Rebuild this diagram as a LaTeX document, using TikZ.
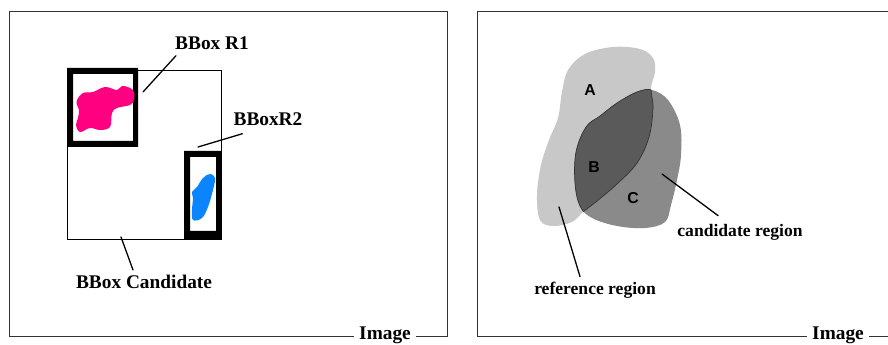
\documentclass[tikz,border=0pt]{standalone}
\usepackage{fontspec}
\setmainfont{Liberation Serif}
\newfontfamily\regsans{Liberation Sans}
\usetikzlibrary{calc}

\definecolor{refgray}{RGB}{200,200,200}
\definecolor{candgray}{RGB}{138,138,138}
\definecolor{overgray}{RGB}{90,90,90}
\definecolor{blobpink}{RGB}{255,0,128}
\definecolor{blobblue}{RGB}{10,132,255}

\tikzset{
	framebox/.style={line width=0.8pt, color=black!80},
	lbl/.style={font=\bfseries\fontsize{16.5}{18}\selectfont, inner sep=0pt},
	smalllbl/.style={font=\bfseries\fontsize{15}{17}\selectfont, inner sep=0pt},
	regionlbl/.style={font=\regsans\bfseries\fontsize{13.5}{15}\selectfont, inner sep=0pt},
	imglbl/.style={font=\bfseries\fontsize{16.5}{18}\selectfont, fill=white, inner xsep=4.5pt, inner ysep=0pt},
	leader/.style={line width=1.1pt, line cap=round}
}

\begin{document}
\begin{tikzpicture}[x=0.03cm, y=-0.03cm]
		%%%%% START %%%%%
		\useasboundingbox (0, 0) rectangle (888, 345);
		
		% left panel
		\draw[framebox] (9, 11) rectangle (447, 336);
		\node[imglbl] (imgleft) at (385, 335) {Image};
		
		\draw[line width=0.6pt] (67, 70) rectangle (221, 239);
		\fill[even odd rule] (67, 68) rectangle (138, 147) (73, 74) rectangle (133, 141);
		\fill[even odd rule] (184, 151) rectangle (221, 239) (190, 157) rectangle (216, 231);
		
		\fill[blobpink] plot[smooth cycle, tension=0.6] coordinates {(77, 100) (83, 93) (93, 92) (105, 87) (117, 90) (122, 86) (130, 88) (134, 92) (134, 100) (130, 105) (117, 108) (112, 113) (110, 127) (100, 130) (90, 128) (80, 132) (76, 125) (78, 118) (79, 110) (77, 105)};
		\fill[blobblue] plot[smooth cycle, tension=0.6] coordinates {(210, 174) (215, 178) (213, 190) (208, 207) (202, 218) (193, 220) (192, 210) (193, 198) (192, 192) (197, 187) (203, 178)};
		
		\node[lbl] (r1lbl) at (212, 43) {BBox R1};
		\node[lbl] (r2lbl) at (268, 119) {BBoxR2};
		\node[lbl] (candlbl) at (144, 282) {BBox Candidate};
		
		\coordinate (r1tip) at (143, 92);
		\coordinate (r2tip) at (198, 147);
		\coordinate (candtip) at (121, 237);
		\draw[leader] (r1tip) -- ($(r1lbl.south west)+(1, 6)$);
		\draw[leader] (r2tip) -- ($(r2lbl.south west)+(9, 8)$);
		\draw[leader] (candtip) -- ($(candlbl.north)+(-11, -5)$);
		
		% right panel
		\draw[framebox] (888, 11) -- (477, 11) -- (477, 336) -- (888, 336);
		\node[imglbl] (imgright) at (838, 335) {Image};
		
		\def\refshape{plot[smooth cycle, tension=0.6] coordinates {(613, 47) (640, 49) (653, 58) (655, 72) (651, 88) (653, 108) (649, 137) (637, 163) (617, 184) (597, 201) (583, 212) (572, 222) (553, 226) (540, 220) (537, 195) (541, 165) (549, 140) (558, 118) (562, 92) (568, 70) (585, 54)}}
		\def\candshape{plot[smooth cycle, tension=0.6] coordinates {(652, 90) (668, 100) (680, 125) (681, 155) (677, 180) (671, 205) (665, 222) (645, 228) (617, 226) (592, 218) (580, 206) (575, 183) (576, 152) (586, 127) (600, 116) (617, 103) (637, 92)}}
		
		\fill[refgray] \refshape;
		\fill[candgray] \candshape;
		\begin{scope}
			\clip \candshape;
			\fill[overgray] \refshape;
			\draw[line width=0.6pt, color=black!80] \refshape;
		\end{scope}
		\begin{scope}
			\clip \refshape;
			\draw[line width=0.6pt, color=black!80] \candshape;
		\end{scope}
		
		\node[regionlbl] (alb) at (590, 90) {A};
		\node[regionlbl] (blb) at (594, 167) {B};
		\node[regionlbl] (clb) at (633, 198) {C};
		
		\node[smalllbl] (crlbl) at (740, 232) {candidate region};
		\node[smalllbl] (reflbl) at (595, 290) {reference region};
		
		\coordinate (crtip) at (662, 174);
		\coordinate (reftip) at (559, 207);
		\draw[leader] (crtip) -- ($(crlbl.north west)+(41, -8)$);
		\draw[leader] (reftip) -- ($(reflbl.north west)+(46, -5)$);
		
		%%%%% END %%%%%
	\end{tikzpicture}
\end{document}
